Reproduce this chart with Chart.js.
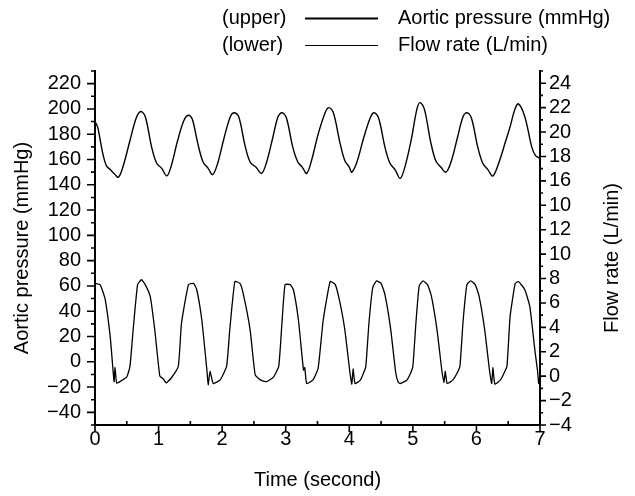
<!DOCTYPE html>
<html><head><meta charset="utf-8">
<script src="https://cdn.jsdelivr.net/npm/chart.js@4/dist/chart.umd.min.js"></script>
<style>html,body{margin:0;padding:0;background:#fff;}canvas{display:block;}</style>
</head><body>
<canvas id="c" width="635" height="496"></canvas>
<script>
// ---- Data ----
const timeP = [0.00,0.04,0.08,0.13,0.18,0.24,0.30,0.37,0.45,0.55,0.65,0.72,0.79,0.89,0.97,1.05,1.13,1.20,1.30,1.40,1.47,1.53,1.62,1.70,1.78,1.85,1.93,2.03,2.13,2.19,2.26,2.36,2.44,2.53,2.62,2.70,2.80,2.88,2.94,3.01,3.11,3.19,3.26,3.33,3.41,3.51,3.62,3.68,3.75,3.85,3.93,4.00,4.04,4.12,4.22,4.33,4.39,4.46,4.56,4.64,4.72,4.80,4.88,4.98,5.06,5.11,5.18,5.28,5.36,5.44,5.52,5.60,5.70,5.79,5.85,5.92,6.02,6.10,6.18,6.26,6.37,6.45,6.53,6.60,6.66,6.76,6.87,6.93,7.00];
const pressure = [190,186,176,163,155,152,149,146,156,175,193,198,194,170,157,153,147,155,175,191,195,192,172,158,153,148,157,177,194,197,194,171,158,154,149,158,178,194,197,193,170,158,154,149,160,180,197,201,197,174,159,154,150,158,176,193,197,193,170,157,152,145,155,177,199,205,200,174,159,154,150,158,177,194,197,193,170,157,152,147,160,173,186,199,204,194,170,163,161];

const timeF = [0.00,0.08,0.16,0.24,0.30,0.315,0.34,0.39,0.50,0.55,0.60,0.67,0.73,0.79,0.87,0.94,1.02,1.07,1.12,1.20,1.31,1.36,1.47,1.55,1.60,1.68,1.76,1.78,1.81,1.86,1.97,2.07,2.12,2.20,2.28,2.33,2.44,2.52,2.60,2.70,2.81,2.89,2.94,2.99,3.07,3.12,3.20,3.28,3.30,3.33,3.43,3.51,3.59,3.70,3.78,3.85,3.93,4.01,4.04,4.06,4.09,4.17,4.22,4.26,4.31,4.37,4.43,4.50,4.56,4.65,4.73,4.77,4.80,4.90,4.96,5.00,5.05,5.10,5.16,5.23,5.29,5.38,5.46,5.49,5.51,5.54,5.63,5.69,5.74,5.79,5.85,5.91,5.98,6.04,6.13,6.21,6.24,6.26,6.29,6.38,6.43,6.48,6.53,6.61,6.66,6.76,6.84,6.92,6.96,6.98,7.00];
const flow = [7.6,7.5,6.3,3.2,-0.45,0.7,-0.56,-0.45,-0.05,0.8,3.8,7.5,7.9,7.5,6.5,3.8,0.0,-0.2,-0.55,-0.15,0.8,4.3,7.5,7.6,7.1,4.6,0.5,-0.7,0.4,-0.6,-0.3,0.8,3.8,7.75,7.6,6.8,3.8,0.1,-0.3,-0.45,-0.05,0.8,4.3,7.5,7.5,7.1,4.6,0.5,0.7,-0.6,-0.3,0.65,4.6,7.75,7.5,6.1,3.8,0.3,-0.65,0.6,-0.6,-0.35,0.2,0.8,4.4,7.3,7.8,7.6,6.7,3.9,0.3,-0.5,-0.6,-0.35,0.2,0.8,4.5,7.4,7.8,7.5,6.6,3.8,0.3,-0.5,0.4,-0.6,-0.3,0.2,0.8,4.5,7.5,7.8,7.5,6.6,3.8,0.3,-0.6,0.7,-0.65,-0.3,0.2,0.8,4.9,7.6,7.75,7.1,5.7,2.1,0.5,-0.6,0.1];

const xTickValues = [0,1,2,3,4,5,6,7];
const xTickLabels = ['0','1','2','3','4','5','6','7'];
const leftTickValues = [-40,-20,0,20,40,60,80,100,120,140,160,180,200,220];
const leftTickLabels = ['\u221240','\u221220','0','20','40','60','80','100','120','140','160','180','200','220'];
const rightTickValues = [-4,-2,0,2,4,6,8,10,12,14,16,18,20,22,24];
const rightTickLabels = ['\u22124','\u22122','0','2','4','6','8','10','12','10','16','18','20','22','24'];
const seriesNames = ['Aortic pressure (mmHg)','Flow rate (L/min)'];
const seriesTags = ['(upper)','(lower)'];
const xTitle = 'Time (second)';
const leftTitle = 'Aortic pressure (mmHg)';
const rightTitle = 'Flow rate (L/min)';

const FAMILY = "'Liberation Sans', Arial, Helvetica, sans-serif";
const FS = 20;
Chart.defaults.font.family = FAMILY;
Chart.defaults.color = '#000';

const axisTicks = {
  id: 'axisTicks',
  afterDraw(chart) {
    const ctx = chart.ctx;
    const sx = chart.scales.x, sy = chart.scales.y, sr = chart.scales.y1;
    const area = chart.chartArea;
    ctx.save();
    ctx.strokeStyle = '#000';
    ctx.lineWidth = 1.6;
    ctx.beginPath();
    for (let v = sy.min; v <= sy.max + 1e-9; v += 10) {
      const p = sy.getPixelForValue(v);
      const len = leftTickValues.includes(v) ? 8 : 4;
      ctx.moveTo(area.left - len, p); ctx.lineTo(area.left, p);
    }
    for (let v = sr.min; v <= sr.max + 1e-9; v += 1) {
      const p = sr.getPixelForValue(v);
      const len = rightTickValues.includes(v) ? 6 : 3;
      ctx.moveTo(area.right, p); ctx.lineTo(area.right + len, p);
    }
    for (let k = 0; k <= 14; k++) {
      const v = sx.min + k * 0.5;
      const p = sx.getPixelForValue(v);
      if (k % 2 === 0) { ctx.moveTo(p, area.bottom); ctx.lineTo(p, area.bottom + 7); }
      else { ctx.moveTo(p, area.bottom); ctx.lineTo(p, area.bottom - 4); }
    }
    ctx.stroke();

    // right axis title (reads bottom-to-top)
    ctx.fillStyle = '#000';
    ctx.font = FS + 'px ' + FAMILY;
    ctx.textAlign = 'center';
    ctx.textBaseline = 'middle';
    ctx.save();
    ctx.translate(612, 258);
    ctx.rotate(-Math.PI / 2);
    ctx.fillText(rightTitle, 0, 0);
    ctx.restore();

    // legend
    const rows = [18, 45];
    chart.data.datasets.forEach((ds, i) => {
      const yy = rows[i];
      ctx.textAlign = 'left';
      ctx.fillText(seriesTags[i], 222, yy);
      ctx.beginPath();
      ctx.lineWidth = i === 0 ? 2 : 1;
      ctx.moveTo(305, yy + 0.5); ctx.lineTo(378, yy + 0.5);
      ctx.stroke();
      ctx.fillText(ds.label, 398, yy);
    });
    ctx.restore();
  }
};

new Chart(document.getElementById('c'), {
  type: 'line',
  data: {
    datasets: [
      { label: seriesNames[0], data: timeP.map((t, i) => ({ x: t, y: pressure[i] })), yAxisID: 'y',
        borderColor: '#000', borderWidth: 1.4, pointRadius: 0, tension: 0.35, fill: false },
      { label: seriesNames[1], data: timeF.map((t, i) => ({ x: t, y: flow[i] })), yAxisID: 'y1',
        borderColor: '#000', borderWidth: 1.3, pointRadius: 0, tension: 0.15, fill: false }
    ]
  },
  options: {
    responsive: false, animation: false, devicePixelRatio: 1,
    layout: { padding: { top: 71, left: 0, right: 0, bottom: 0 } },
    plugins: { legend: { display: false }, tooltip: { enabled: false } },
    scales: {
      x: {
        type: 'linear', position: 'bottom', min: 0, max: 7,
        afterBuildTicks: s => { s.ticks = xTickValues.map(v => ({ value: v })); },
        afterFit: s => { s.height = 71; },
        grid: { display: false, drawTicks: false },
        border: { display: true, color: '#000', width: 2 },
        ticks: { color: '#000', font: { size: FS }, padding: 2, maxRotation: 0, autoSkip: false,
          callback: (v, i) => xTickLabels[i] },
        title: { display: true, text: xTitle, color: '#000', font: { size: FS }, padding: { top: 0, bottom: 4 } }
      },
      y: {
        type: 'linear', position: 'left', min: -50, max: 230,
        afterBuildTicks: s => { s.ticks = leftTickValues.map(v => ({ value: v })); },
        afterFit: s => { s.width = 95; },
        grid: { display: false, drawTicks: false },
        border: { display: true, color: '#000', width: 2 },
        ticks: { color: '#000', font: { size: FS }, padding: 14, autoSkip: false,
          callback: (v, i) => leftTickLabels[i] },
        title: { display: true, text: leftTitle, color: '#000', font: { size: FS }, padding: { top: 10, bottom: 0 } }
      },
      y1: {
        type: 'linear', position: 'right', min: -4, max: 25,
        afterBuildTicks: s => { s.ticks = rightTickValues.map(v => ({ value: v })); },
        afterFit: s => { s.width = 95; },
        grid: { display: false, drawTicks: false },
        border: { display: true, color: '#000', width: 2 },
        ticks: { color: '#000', font: { size: FS }, padding: 9, autoSkip: false,
          callback: (v, i) => rightTickLabels[i] }
      }
    }
  },
  plugins: [axisTicks]
});
</script>
</body></html>
